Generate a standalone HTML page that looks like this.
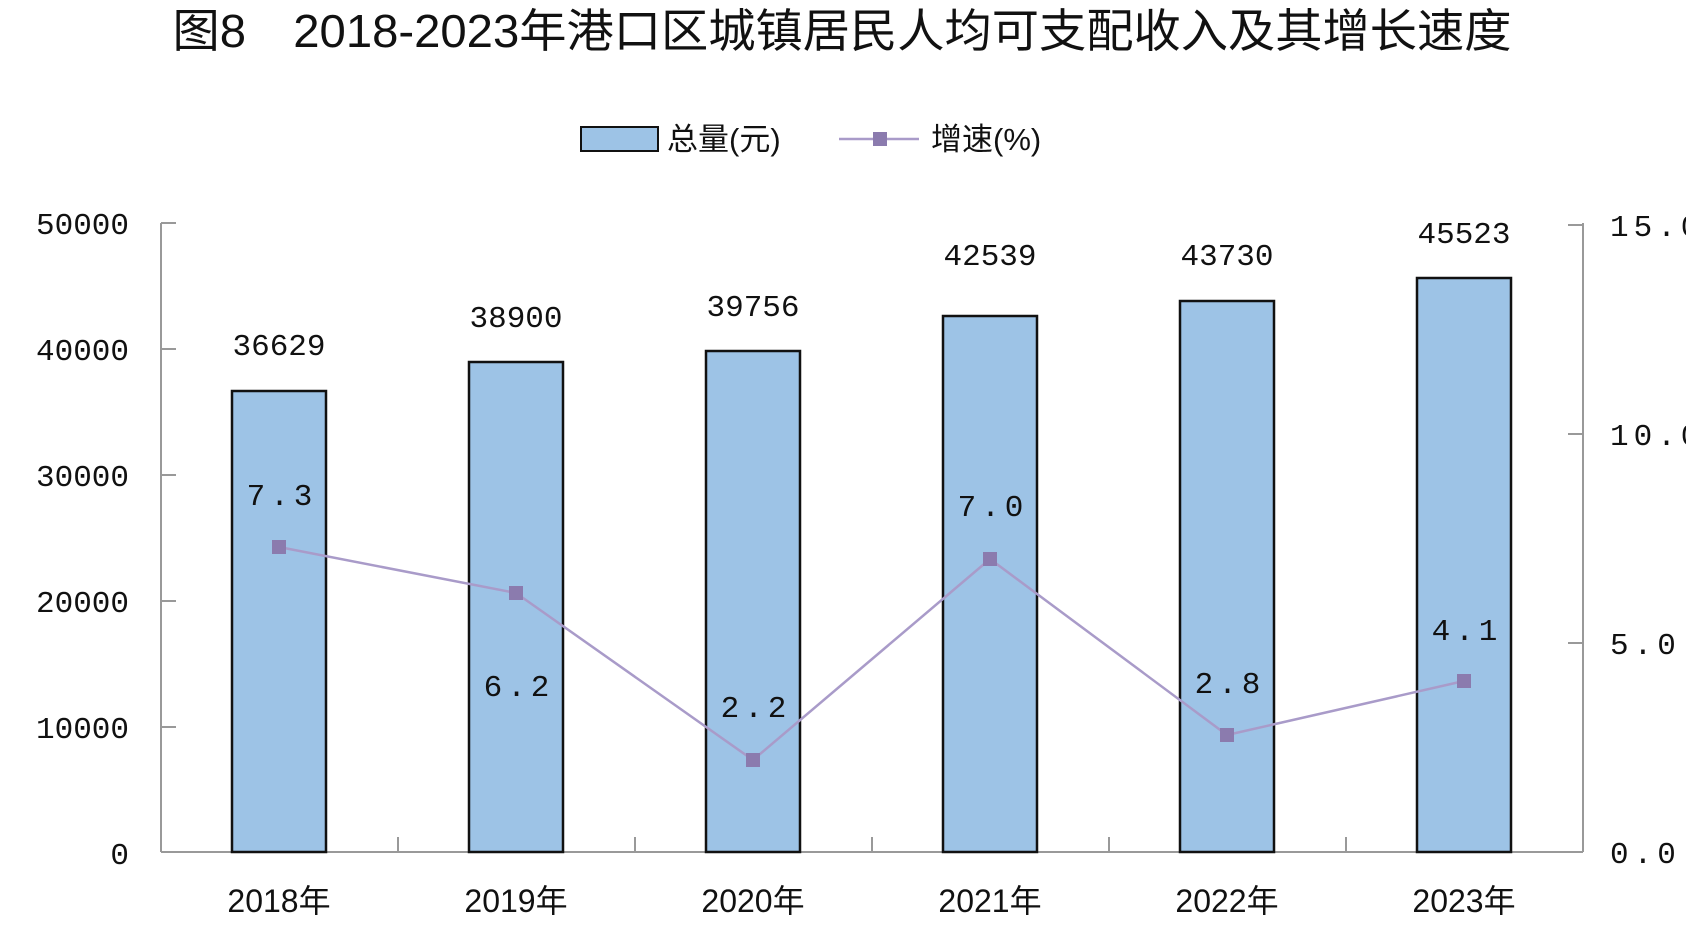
<!DOCTYPE html>
<html><head><meta charset="utf-8"><style>
html,body{margin:0;padding:0;background:#fff;}
svg{display:block;}
text{font-family:"Liberation Mono","Noto Sans CJK SC",monospace;fill:#111;}
.t{font-family:"Liberation Sans","Noto Sans CJK SC",sans-serif;}
</style></head><body>
<svg width="1686" height="939" viewBox="0 0 1686 939" xmlns="http://www.w3.org/2000/svg">
<text class="t" x="842" y="47" font-size="46" text-anchor="middle" textLength="1339" lengthAdjust="spacingAndGlyphs">图8　2018-2023年港口区城镇居民人均可支配收入及其增长速度</text>
<!-- legend -->
<rect x="581" y="127" width="77" height="24" fill="#9DC3E6" stroke="#111" stroke-width="2"/>
<text class="t" x="667" y="150" font-size="31">总量(元)</text>
<line x1="839" y1="139" x2="919" y2="139" stroke="#A99BC9" stroke-width="2.5"/>
<rect x="873" y="132" width="14" height="14" fill="#8B7BAE"/>
<text class="t" x="931" y="150" font-size="31">增速(%)</text>
<!-- axes -->
<g stroke="#999" stroke-width="2" fill="none">
<line x1="161" y1="223" x2="161" y2="852"/>
<line x1="161" y1="852" x2="1583" y2="852"/>
<line x1="1583" y1="223" x2="1583" y2="852"/>
<line x1="161" y1="223" x2="176" y2="223"/>
<line x1="161" y1="349" x2="176" y2="349"/>
<line x1="161" y1="475" x2="176" y2="475"/>
<line x1="161" y1="601" x2="176" y2="601"/>
<line x1="161" y1="727" x2="176" y2="727"/>
<line x1="1568" y1="225" x2="1583" y2="225"/>
<line x1="1568" y1="434" x2="1583" y2="434"/>
<line x1="1568" y1="643" x2="1583" y2="643"/>
<line x1="398" y1="837" x2="398" y2="852"/>
<line x1="635" y1="837" x2="635" y2="852"/>
<line x1="872" y1="837" x2="872" y2="852"/>
<line x1="1109" y1="837" x2="1109" y2="852"/>
<line x1="1346" y1="837" x2="1346" y2="852"/>
</g>
<g font-size="31" text-anchor="end">
<text x="129" y="234">50000</text>
<text x="129" y="360">40000</text>
<text x="129" y="486">30000</text>
<text x="129" y="612">20000</text>
<text x="129" y="738">10000</text>
<text x="129" y="864">0</text>
</g>
<g font-size="31" letter-spacing="5">
<text x="1610" y="236">15.0</text>
<text x="1610" y="445">10.0</text>
<text x="1610" y="654">5.0</text>
<text x="1610" y="863">0.0</text>
</g>
<!-- bars -->
<g fill="#9DC3E6" stroke="#111" stroke-width="2.5">
<rect x="232" y="391" width="94" height="461"/>
<rect x="469" y="362" width="94" height="490"/>
<rect x="706" y="351" width="94" height="501"/>
<rect x="943" y="316" width="94" height="536"/>
<rect x="1180" y="301" width="94" height="551"/>
<rect x="1417" y="278" width="94" height="574"/>
</g>
<g font-size="31" text-anchor="middle">
<text x="279" y="355">36629</text>
<text x="516" y="327">38900</text>
<text x="753" y="316">39756</text>
<text x="990" y="265">42539</text>
<text x="1227" y="265">43730</text>
<text x="1464" y="243">45523</text>
</g>
<!-- line -->
<polyline points="279,547 516,593 753,760 990,559 1227,735 1464,681" fill="none" stroke="#A99BC9" stroke-width="2.5"/>
<g fill="#8B7BAE">
<rect x="272" y="540" width="14" height="14"/>
<rect x="509" y="586" width="14" height="14"/>
<rect x="746" y="753" width="14" height="14"/>
<rect x="983" y="552" width="14" height="14"/>
<rect x="1220" y="728" width="14" height="14"/>
<rect x="1457" y="674" width="14" height="14"/>
</g>
<g font-size="31" text-anchor="middle" letter-spacing="5">
<text x="282" y="505">7.3</text>
<text x="519" y="696">6.2</text>
<text x="756" y="717">2.2</text>
<text x="993" y="516">7.0</text>
<text x="1230" y="693">2.8</text>
<text x="1467" y="640">4.1</text>
</g>
<g font-size="32" text-anchor="middle">
<text class="t" x="279" y="912">2018年</text>
<text class="t" x="516" y="912">2019年</text>
<text class="t" x="753" y="912">2020年</text>
<text class="t" x="990" y="912">2021年</text>
<text class="t" x="1227" y="912">2022年</text>
<text class="t" x="1464" y="912">2023年</text>
</g>
</svg>
</body></html>
